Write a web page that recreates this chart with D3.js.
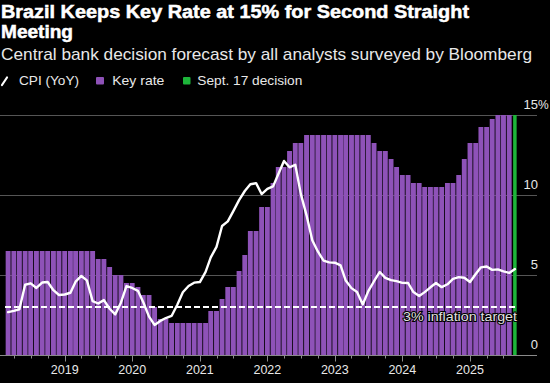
<!DOCTYPE html>
<html>
<head>
<meta charset="utf-8">
<script src="https://cdn.jsdelivr.net/npm/d3@7"></script>
<style>
  html, body { margin: 0; padding: 0; background: #000; }
  svg { display: block; }
  text { font-family: "Liberation Sans", Arial, sans-serif; }
</style>
</head>
<body>
<svg id="chart" width="550" height="383"></svg>
<script>
// ---------- data ----------
const title1 = "Brazil Keeps Key Rate at 15% for Second Straight";
const title2 = "Meeting";
const subtitle = "Central bank decision forecast by all analysts surveyed by Bloomberg";
const legendLabels = ["CPI (YoY)", "Key rate", "Sept. 17 decision"];

// months Mar 2018 .. Aug 2025 for key-rate bars
const rateStart = "2018-03";
const keyRate = [
  6.5, 6.5, 6.5, 6.5, 6.5, 6.5, 6.5, 6.5, 6.5, 6.5,                 // 2018 Mar-Dec
  6.5, 6.5, 6.5, 6.5, 6.5, 6.5, 6.0, 6.0, 5.5, 5.0, 5.0, 4.5,       // 2019
  4.5, 4.25, 3.75, 3.75, 3.0, 2.25, 2.25, 2.0, 2.0, 2.0, 2.0, 2.0,  // 2020
  2.0, 2.0, 2.75, 2.75, 3.5, 4.25, 4.25, 5.25, 6.25, 7.75, 7.75, 9.25, // 2021
  9.25, 10.75, 11.75, 11.75, 12.75, 13.25, 13.25, 13.75, 13.75, 13.75, 13.75, 13.75, // 2022
  13.75, 13.75, 13.75, 13.75, 13.75, 13.75, 13.75, 13.25, 12.75, 12.75, 12.25, 11.75, // 2023
  11.25, 11.25, 10.75, 10.75, 10.5, 10.5, 10.5, 10.5, 10.75, 10.75, 11.25, 12.25, // 2024
  13.25, 13.25, 14.25, 14.25, 14.75, 15.0, 15.0, 15.0                // 2025 Jan-Aug
];
const decisionMonth = "2025-09";
const decisionRate = 15.0;

// months Mar 2018 .. Sep 2025 for CPI line
const cpiStart = "2018-03";
const cpi = [
  2.68, 2.76, 2.86, 4.39, 4.48, 4.19, 4.53, 4.56, 4.05, 3.75,
  3.78, 3.89, 4.58, 4.94, 4.66, 3.37, 3.22, 3.43, 2.89, 2.54, 3.27, 4.31,
  4.19, 4.01, 3.30, 2.40, 1.88, 2.13, 2.31, 2.44, 3.14, 3.92, 4.31, 4.52,
  4.56, 5.20, 6.10, 6.76, 8.06, 8.35, 8.99, 9.68, 10.25, 10.67, 10.74, 10.06,
  10.38, 10.54, 11.30, 12.13, 11.73, 11.89, 10.07, 8.73, 7.17, 6.47, 5.90, 5.79,
  5.77, 5.60, 4.65, 4.18, 3.94, 3.16, 3.99, 4.61, 5.19, 4.82, 4.68, 4.62,
  4.51, 4.50, 3.93, 3.69, 3.93, 4.23, 4.50, 4.24, 4.42, 4.76, 4.87, 4.83,
  4.56, 5.06, 5.48, 5.53, 5.32, 5.35, 5.23, 5.13, 5.37
];
const inflationTarget = 3;
const targetLabel = "3% inflation target";
const yTicks = [0, 5, 10, 15];
const xYears = [2019, 2020, 2021, 2022, 2023, 2024, 2025];

// ---------- helpers ----------
const parseMonth = d3.timeParse("%Y-%m");
function monthSeq(start, n) {
  const s = parseMonth(start);
  return d3.range(n).map(i => d3.timeMonth.offset(s, i));
}
const rateData = monthSeq(rateStart, keyRate.length).map((d, i) => ({date: d, v: keyRate[i]}));
const cpiData = monthSeq(cpiStart, cpi.length).map((d, i) => ({date: d, v: cpi[i]}));

// ---------- colours ----------
const PURPLE = "#8e52b8";
const GREEN = "#1db53a";
const GRID = "#555555";
const AXIS = "#8a8a8a";
const TEXT = "#e8e8e8";

const svg = d3.select("#chart");
svg.append("rect").attr("width", 550).attr("height", 383).attr("fill", "#000");

// ---------- scales ----------
const x = d3.scaleTime()
  .domain([new Date(2019, 0, 1), new Date(2025, 0, 1)])
  .range([64.7, 470]);
const y = d3.scaleLinear().domain([0, 15]).range([355, 115]);
const plotLeft = 0, plotRight = 537;
const barW = 4.9;

// ---------- title ----------
svg.append("text").attr("x", 1).attr("y", 17.5)
  .attr("font-size", 18.5).attr("font-weight", "bold").attr("fill", "#fff")
  .attr("stroke", "#fff").attr("stroke-width", 0.5)
  .attr("textLength", 468).attr("lengthAdjust", "spacingAndGlyphs")
  .text(title1);
svg.append("text").attr("x", 1).attr("y", 37.8)
  .attr("font-size", 18.5).attr("font-weight", "bold").attr("fill", "#fff")
  .attr("stroke", "#fff").attr("stroke-width", 0.5)
  .attr("textLength", 72).attr("lengthAdjust", "spacingAndGlyphs")
  .text(title2);
svg.append("text").attr("x", 1).attr("y", 59.5)
  .attr("font-size", 17).attr("fill", TEXT)
  .attr("textLength", 531).attr("lengthAdjust", "spacingAndGlyphs")
  .text(subtitle);

// ---------- legend ----------
const lg = svg.append("g");
lg.append("line").attr("x1", 2).attr("y1", 85).attr("x2", 7).attr("y2", 77.5)
  .attr("stroke", "#fff").attr("stroke-width", 2.2).attr("stroke-linecap", "round");
lg.append("text").attr("x", 19).attr("y", 85).attr("font-size", 13).attr("fill", TEXT)
  .attr("textLength", 60).attr("lengthAdjust", "spacingAndGlyphs").text(legendLabels[0]);
lg.append("rect").attr("x", 96).attr("y", 77).attr("width", 8).attr("height", 7.5).attr("rx", 1)
  .attr("fill", PURPLE);
lg.append("text").attr("x", 112.3).attr("y", 85).attr("font-size", 13).attr("fill", TEXT)
  .attr("textLength", 52).attr("lengthAdjust", "spacingAndGlyphs").text(legendLabels[1]);
lg.append("rect").attr("x", 183).attr("y", 77).attr("width", 7.5).attr("height", 7.5).attr("rx", 1)
  .attr("fill", GREEN);
lg.append("text").attr("x", 197.3).attr("y", 85).attr("font-size", 13).attr("fill", TEXT)
  .attr("textLength", 105).attr("lengthAdjust", "spacingAndGlyphs").text(legendLabels[2]);

// ---------- gridlines + y labels ----------
const yg = svg.append("g");
yTicks.filter(t => t > 0).forEach(t => {
  yg.append("line").attr("x1", plotLeft).attr("x2", plotRight)
    .attr("y1", y(t) + 0.5).attr("y2", y(t) + 0.5)
    .attr("stroke", GRID).attr("stroke-width", 1);
});
yTicks.forEach(t => {
  yg.append("text").attr("x", 538).attr("y", y(t) - 6)
    .attr("font-size", 13).attr("fill", TEXT).attr("text-anchor", "end")
    .text(t);
  if (t === d3.max(yTicks)) {
    yg.append("text").attr("x", 538).attr("y", y(t) - 6)
      .attr("font-size", 12).attr("fill", TEXT).attr("letter-spacing", -0.5).text("%");
  }
});

// ---------- bars ----------
svg.append("g").selectAll("rect").data(rateData).join("rect")
  .attr("x", d => x(d.date) - barW / 2)
  .attr("width", barW)
  .attr("y", d => y(d.v))
  .attr("height", d => y(0) - y(d.v))
  .attr("fill", PURPLE);

const dDate = parseMonth(decisionMonth);
svg.append("rect")
  .attr("x", x(dDate) - 1.8).attr("width", 3.5)
  .attr("y", y(decisionRate)).attr("height", y(0) - y(decisionRate))
  .attr("fill", GREEN);

// ---------- target line ----------
svg.append("line")
  .attr("x1", 5).attr("x2", 517)
  .attr("y1", y(inflationTarget)).attr("y2", y(inflationTarget))
  .attr("stroke", "#fff").attr("stroke-width", 2).attr("stroke-dasharray", "6,3");

// ---------- CPI line ----------
svg.append("path").datum(cpiData)
  .attr("fill", "none").attr("stroke", "#fff").attr("stroke-width", 2.4)
  .attr("stroke-linejoin", "round").attr("stroke-linecap", "round")
  .attr("d", d3.line().x(d => x(d.date)).y(d => y(d.v)));

// target label with halo
svg.append("text")
  .attr("x", 517).attr("y", 321).attr("text-anchor", "end")
  .attr("font-size", 13).attr("fill", "#e0e0e0")
  .attr("stroke", "#000").attr("stroke-width", 2).attr("paint-order", "stroke")
  .attr("textLength", 114).attr("lengthAdjust", "spacingAndGlyphs")
  .text(targetLabel);

// ---------- x axis ----------
const xa = svg.append("g");
xa.append("line").attr("x1", plotLeft).attr("x2", plotRight)
  .attr("y1", y(0) + 0.5).attr("y2", y(0) + 0.5)
  .attr("stroke", AXIS).attr("stroke-width", 1.2);
const quarterTicks = d3.timeMonth.every(3).range(new Date(2018, 3, 1), new Date(2025, 7, 1));
xa.selectAll("line.tk").data(quarterTicks).join("line").attr("class", "tk")
  .attr("x1", d => Math.round(x(d)) + 0.5).attr("x2", d => Math.round(x(d)) + 0.5)
  .attr("y1", y(0) + 1).attr("y2", d => d.getMonth() === 0 ? y(0) + 6.5 : y(0) + 3.5)
  .attr("stroke", AXIS).attr("stroke-width", 1);
xa.selectAll("text").data(xYears).join("text")
  .attr("x", d => x(new Date(d, 0, 1)))
  .attr("y", 374)
  .attr("text-anchor", "middle")
  .attr("font-size", 12.5).attr("fill", TEXT)
  .text(d => d);
</script>
</body>
</html>
